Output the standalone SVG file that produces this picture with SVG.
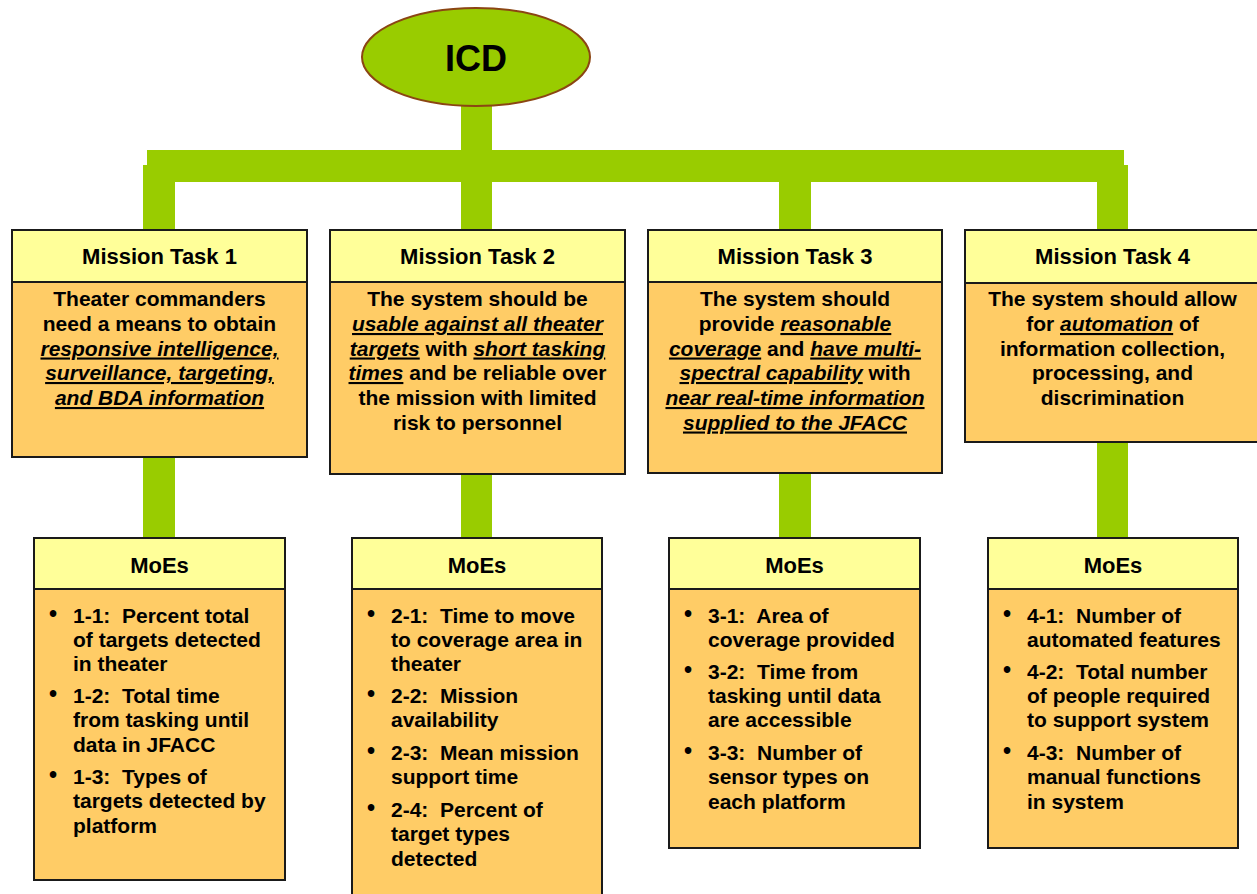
<svg xmlns="http://www.w3.org/2000/svg" width="1257" height="894" viewBox="0 0 1257 894">
<style>
.c{fill:#99CC00;stroke:none}
.hd{fill:#FFFF99;stroke:#1a1a1a;stroke-width:2}
.bd{fill:#FFCC66;stroke:#1a1a1a;stroke-width:2}
text{font-family:"Liberation Sans",Arial,sans-serif;font-weight:bold;fill:#000}
.h{font-size:22px;text-anchor:middle}
.t{font-size:21px;text-anchor:middle}
.m{font-size:21px;white-space:pre}
.b{font-size:23px}
.u{font-style:italic;text-decoration:underline}
</style>
<rect width="1257" height="894" fill="#fff"/>
<g id="connectors">
<rect class="c" x="461" y="100" width="31" height="130"/>
<rect class="c" x="147" y="150" width="977" height="32"/>
<rect class="c" x="143" y="165" width="32" height="65"/>
<rect class="c" x="1097" y="165" width="31" height="65"/>
<rect class="c" x="779" y="170" width="32" height="60"/>
<rect class="c" x="143" y="457" width="32" height="81"/>
<rect class="c" x="461" y="474" width="31" height="64"/>
<rect class="c" x="779" y="473" width="32" height="65"/>
<rect class="c" x="1097" y="442" width="31" height="96"/>
</g>
<g id="icd">
<ellipse cx="476" cy="57" rx="114" ry="49" fill="#99CC00" stroke="#8B4513" stroke-width="2"/>
<text x="476" y="71" style="font-size:36px;text-anchor:middle">ICD</text>
</g>
<g id="task1">
<rect class="bd" x="12" y="230" width="295" height="227"/>
<rect class="hd" x="12" y="230" width="295" height="52"/>
<text class="h" x="159.5" y="264">Mission Task 1</text>
<text class="t" x="159.5" y="306">Theater commanders</text>
<text class="t" x="159.5" y="331">need a means to obtain</text>
<text class="t" x="159.5" y="355.5"><tspan class="u">responsive intelligence,</tspan></text>
<text class="t" x="159.5" y="380"><tspan class="u">surveillance, targeting,</tspan></text>
<text class="t" x="159.5" y="405"><tspan class="u">and BDA information</tspan></text>
</g>
<g id="task2">
<rect class="bd" x="330" y="230" width="295" height="244"/>
<rect class="hd" x="330" y="230" width="295" height="52"/>
<text class="h" x="477.5" y="264">Mission Task 2</text>
<text class="t" x="477.5" y="306">The system should be</text>
<text class="t" x="477.5" y="331"><tspan class="u">usable against all theater</tspan></text>
<text class="t" x="477.5" y="355.5"><tspan class="u">targets</tspan> with <tspan class="u">short tasking</tspan></text>
<text class="t" x="477.5" y="380"><tspan class="u">times</tspan> and be reliable over</text>
<text class="t" x="477.5" y="405">the mission with limited</text>
<text class="t" x="477.5" y="429.5">risk to personnel</text>
</g>
<g id="task3">
<rect class="bd" x="648" y="230" width="294" height="243"/>
<rect class="hd" x="648" y="230" width="294" height="52"/>
<text class="h" x="795" y="264">Mission Task 3</text>
<text class="t" x="795" y="306">The system should</text>
<text class="t" x="795" y="331">provide <tspan class="u">reasonable</tspan></text>
<text class="t" x="795" y="355.5"><tspan class="u">coverage</tspan> and <tspan class="u">have multi-</tspan></text>
<text class="t" x="795" y="380"><tspan class="u">spectral capability</tspan> with</text>
<text class="t" x="795" y="405"><tspan class="u">near real-time information</tspan></text>
<text class="t" x="795" y="429.5"><tspan class="u">supplied to the JFACC</tspan></text>
</g>
<g id="task4">
<rect class="bd" x="965" y="230" width="295" height="212"/>
<rect class="hd" x="965" y="230" width="295" height="53"/>
<text class="h" x="1112.5" y="264">Mission Task 4</text>
<text class="t" x="1112.5" y="306">The system should allow</text>
<text class="t" x="1112.5" y="331">for <tspan class="u">automation</tspan> of</text>
<text class="t" x="1112.5" y="355.5">information collection,</text>
<text class="t" x="1112.5" y="380">processing, and</text>
<text class="t" x="1112.5" y="405">discrimination</text>
</g>
<g id="moe1">
<rect class="bd" x="34" y="538" width="251" height="342"/>
<rect class="hd" x="34" y="538" width="251" height="51"/>
<text class="h" x="159.5" y="573">MoEs</text>
<text class="b" x="49" y="622">•</text>
<text class="m" x="73" y="623">1-1:  Percent total</text>
<text class="m" x="73" y="647">of targets detected</text>
<text class="m" x="73" y="671">in theater</text>
<text class="b" x="49" y="702">•</text>
<text class="m" x="73" y="703">1-2:  Total time</text>
<text class="m" x="73" y="727">from tasking until</text>
<text class="m" x="73" y="752">data in JFACC</text>
<text class="b" x="49" y="783">•</text>
<text class="m" x="73" y="784">1-3:  Types of</text>
<text class="m" x="73" y="808">targets detected by</text>
<text class="m" x="73" y="833">platform</text>
</g>
<g id="moe2">
<rect class="bd" x="352" y="538" width="250" height="370"/>
<rect class="hd" x="352" y="538" width="250" height="51"/>
<text class="h" x="477" y="573">MoEs</text>
<text class="b" x="367" y="622">•</text>
<text class="m" x="391" y="623">2-1:  Time to move</text>
<text class="m" x="391" y="647">to coverage area in</text>
<text class="m" x="391" y="671">theater</text>
<text class="b" x="367" y="702">•</text>
<text class="m" x="391" y="703">2-2:  Mission</text>
<text class="m" x="391" y="727">availability</text>
<text class="b" x="367" y="759">•</text>
<text class="m" x="391" y="760">2-3:  Mean mission</text>
<text class="m" x="391" y="784">support time</text>
<text class="b" x="367" y="816">•</text>
<text class="m" x="391" y="817">2-4:  Percent of</text>
<text class="m" x="391" y="841">target types</text>
<text class="m" x="391" y="866">detected</text>
</g>
<g id="moe3">
<rect class="bd" x="669" y="538" width="251" height="310"/>
<rect class="hd" x="669" y="538" width="251" height="51"/>
<text class="h" x="794.5" y="573">MoEs</text>
<text class="b" x="684" y="622">•</text>
<text class="m" x="708" y="623">3-1:  Area of</text>
<text class="m" x="708" y="647">coverage provided</text>
<text class="b" x="684" y="678">•</text>
<text class="m" x="708" y="679">3-2:  Time from</text>
<text class="m" x="708" y="703">tasking until data</text>
<text class="m" x="708" y="727">are accessible</text>
<text class="b" x="684" y="759">•</text>
<text class="m" x="708" y="760">3-3:  Number of</text>
<text class="m" x="708" y="784">sensor types on</text>
<text class="m" x="708" y="809">each platform</text>
</g>
<g id="moe4">
<rect class="bd" x="988" y="538" width="250" height="310"/>
<rect class="hd" x="988" y="538" width="250" height="51"/>
<text class="h" x="1113" y="573">MoEs</text>
<text class="b" x="1003" y="622">•</text>
<text class="m" x="1027" y="623">4-1:  Number of</text>
<text class="m" x="1027" y="647">automated features</text>
<text class="b" x="1003" y="678">•</text>
<text class="m" x="1027" y="679">4-2:  Total number</text>
<text class="m" x="1027" y="703">of people required</text>
<text class="m" x="1027" y="727">to support system</text>
<text class="b" x="1003" y="759">•</text>
<text class="m" x="1027" y="760">4-3:  Number of</text>
<text class="m" x="1027" y="784">manual functions</text>
<text class="m" x="1027" y="809">in system</text>
</g>
</svg>
